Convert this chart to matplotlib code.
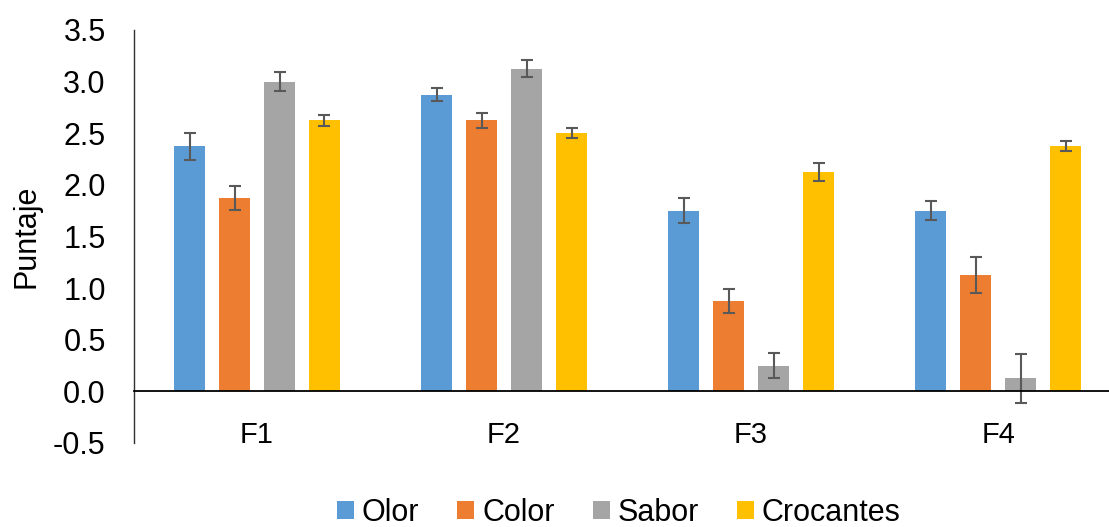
import numpy as np
import matplotlib
matplotlib.use('Agg')
import matplotlib.pyplot as plt
from matplotlib import rcParams

# data
categories = ['F1', 'F2', 'F3', 'F4']
series_names = ['Olor', 'Color', 'Sabor', 'Crocantes']
olor = [2.375, 2.875, 1.75, 1.75]
color = [1.875, 2.625, 0.875, 1.125]
sabor = [3.0, 3.125, 0.25, 0.125]
crocantes = [2.625, 2.5, 2.125, 2.375]
olor_err = [0.13, 0.065, 0.12, 0.095]
color_err = [0.115, 0.075, 0.115, 0.175]
sabor_err = [0.095, 0.085, 0.12, 0.24]
crocantes_err = [0.055, 0.05, 0.085, 0.05]
y_ticks = [-0.5, 0.0, 0.5, 1.0, 1.5, 2.0, 2.5, 3.0, 3.5]

# excel office palette
colors = ['#5B9BD5', '#ED7D31', '#A5A5A5', '#FFC000']

FS = 22
rcParams['font.family'] = ['Liberation Sans', 'DejaVu Sans']
rcParams['font.size'] = FS

fig = plt.figure(figsize=(11.09, 5.27), dpi=100)
ax = fig.add_axes([0.1204, 0.1594, 0.891, 0.7837])

values = [olor, color, sabor, crocantes]
errors = [olor_err, color_err, sabor_err, crocantes_err]
x = np.arange(len(categories))
width = 0.126
step = 0.182

for i, (vals, errs) in enumerate(zip(values, errors)):
    ax.bar(x + (i - 1.5) * step, vals, width=width, color=colors[i],
           label=series_names[i], zorder=2,
           yerr=errs, ecolor='#595959',
           error_kw=dict(elinewidth=1.5, capsize=4.5, capthick=1.5))

ax.set_xlim(-0.5, len(categories) - 0.5)
ax.set_ylim(-0.5, 3.5)
ax.set_yticks(y_ticks)
ax.set_yticklabels(['%.1f' % t for t in y_ticks])
ax.set_xticks(x)
ax.set_xticklabels(categories)

for spine in ['top', 'right']:
    ax.spines[spine].set_visible(False)
ax.spines['bottom'].set_position(('data', 0))
ax.spines['bottom'].set_linewidth(1.3)
ax.spines['left'].set_linewidth(1.0)
ax.spines['left'].set_color('#303030')
ax.tick_params(axis='x', length=0, pad=21, labelsize=21)
ax.tick_params(axis='y', length=0, pad=20, labelsize=FS)

ax.set_ylabel('Puntaje', fontsize=FS)
ax.yaxis.set_label_coords(-0.093, 0.5)

leg = fig.legend(loc='center', bbox_to_anchor=(0.558, 0.027), ncol=4,
                 frameon=False, handlelength=0.55, handleheight=0.55,
                 handletextpad=0.26, columnspacing=1.25, fontsize=FS)

plt.savefig('out.png', dpi=100)
